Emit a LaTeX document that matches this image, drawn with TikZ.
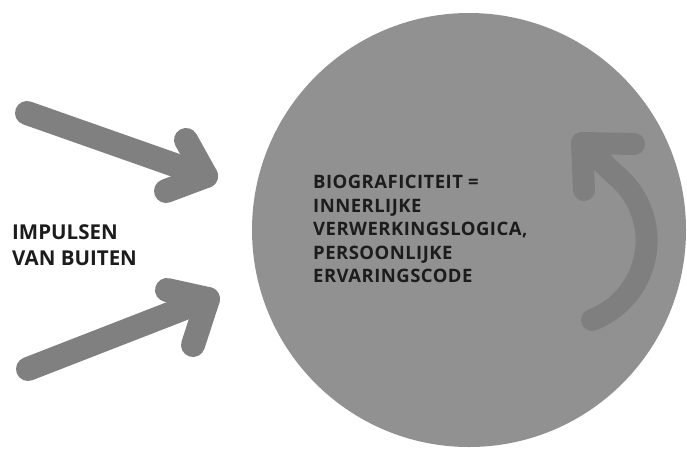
\documentclass[tikz,border=0pt]{standalone}
\usepackage{fontspec}
\setmainfont{Open Sans}
\newfontfamily\widefont{Open Sans}[LetterSpace=2.5]
\definecolor{circgray}{RGB}{145,145,145}
\definecolor{arrgray}{RGB}{128,128,128}
\definecolor{innergray}{RGB}{127,127,127}
\definecolor{txt}{RGB}{28,28,28}
\tikzset{
  bigarrow/.style={draw=arrgray, line width=24pt, line cap=round, line join=round},
  innerarrow/.style={draw=innergray, line width=22pt, line cap=round, line join=round},
  lbl/.style={text=txt, font=\bfseries, align=left, inner sep=0pt, anchor=north west}
}
\begin{document}
\begin{tikzpicture}[x=1pt,y=-1pt]
\useasboundingbox (0,0) rectangle (687,448);
\node[circle, fill=circgray, minimum size=434pt, inner sep=0pt] (circ) at (469,230) {};
% upper arrow
\coordinate (as) at (27,113);
\coordinate (at) at (206,176);
\coordinate (au) at (186,140);
\coordinate (al) at (166,191);
\draw[bigarrow] (as) -- (at);
\draw[bigarrow] (au) -- (at) -- (al);
% lower arrow
\coordinate (bs) at (28,369);
\coordinate (bt) at (208,299);
\coordinate (bu) at (167,290);
\coordinate (bl) at (193,345);
\draw[bigarrow] (bs) -- (bt);
\draw[bigarrow] (bu) -- (bt) -- (bl);
% inner curved arrow
\coordinate (cs) at (592,320);
\coordinate (ct) at (582,143);
\coordinate (cu) at (634,144);
\coordinate (cl) at (584,190);
\draw[innerarrow] (cs) arc[start angle=69, end angle=-51, radius=85] -- (ct);
\draw[innerarrow] (cu) -- (ct) -- (cl);
% texts
\node[lbl, font=\bfseries\fontsize{20.5}{26}\selectfont] (imp) at (12,224) {IMPULSEN\\VAN BUITEN};
\node[lbl, font=\widefont\bfseries\fontsize{18.5}{23.5}\selectfont] (bio) at (313,175) {BIOGRAFICITEIT =\\INNERLIJKE\\VERWERKINGSLOGICA,\\PERSOONLIJKE\\ERVARINGSCODE};
\end{tikzpicture}
\end{document}
